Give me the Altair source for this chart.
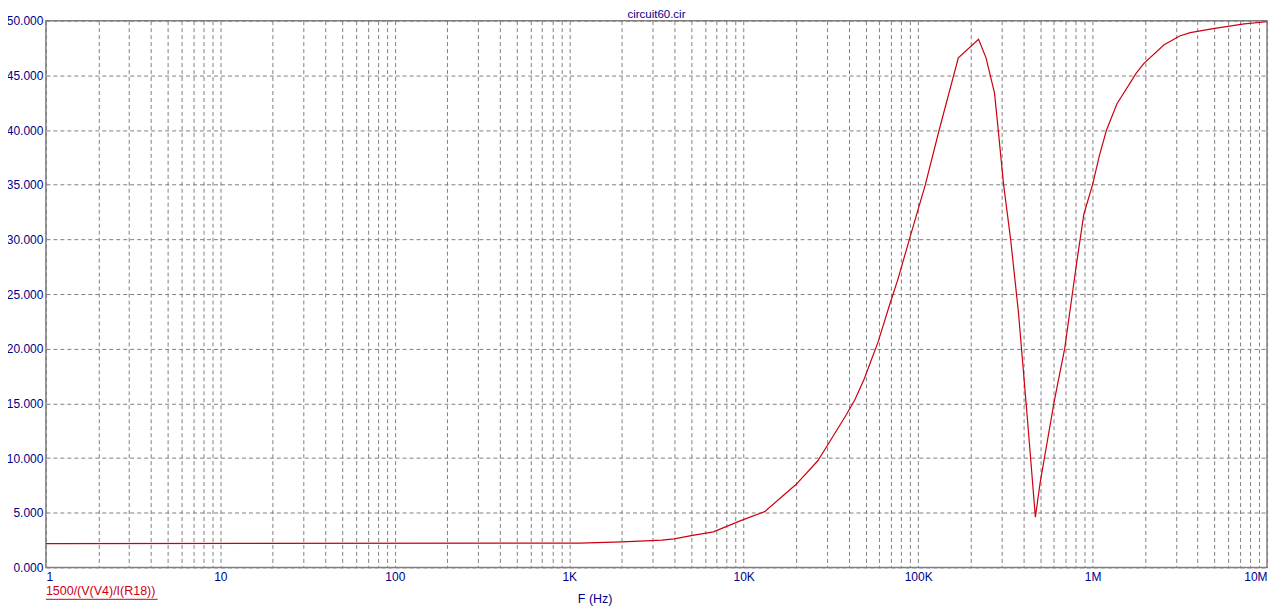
import altair as alt
import pandas as pd

# Frequency (Hz) and trace values
freq = [1, 1150, 2000, 2750, 3400, 4000, 5000, 6700, 9700, 13200,
        20000, 26600, 29500, 38900, 43600, 49000, 58900, 69200, 76400, 89100,
        110000, 132000, 170000, 222000, 245000, 274000, 285000, 309000, 339000, 376000,
        423000, 470000, 500000, 603000, 692000, 813000, 891000, 1000000, 1096000, 1202000,
        1380000, 1780000, 1970000, 2570000, 3160000, 3630000, 5010000, 7410000, 10000000]
value = [2.17, 2.22, 2.33, 2.43, 2.5, 2.6, 2.9, 3.25, 4.3, 5.1,
         7.6, 9.75, 10.9, 14.0, 15.4, 17.2, 20.6, 24.2, 26.3, 30.0,
         35.0, 40.0, 46.6, 48.3, 46.6, 43.4, 40.7, 35.0, 30.0, 23.3,
         13.6, 4.6, 7.7, 15.2, 20.0, 28.0, 32.3, 35.0, 37.7, 40.0,
         42.4, 45.2, 46.1, 47.8, 48.6, 48.9, 49.3, 49.7, 49.9]

decades = [1, 10, 100, 1000, 10000, 100000, 1000000, 10000000]
decade_labels = ["1", "10", "100", "1K", "10K", "100K", "1M", "10M"]
y_ticks = [0, 5, 10, 15, 20, 25, 30, 35, 40, 45, 50]

title_text = "circuit60.cir"
trace_label = "1500/(V(V4)/I(R18))"
x_title = "F (Hz)"

x_grid = [m * d for d in decades[:-1] for m in range(1, 10)] + [decades[-1]]
label_expr = " : ".join(
    f"datum.value == {d} ? '{l}'" for d, l in zip(decades, decade_labels)
) + " : ''"

BLUE = "#00008b"
RED = "#cc0010"
GRAY = "#808080"
FONT = "Liberation Sans"

W, H = 1224, 548

df = pd.DataFrame({"f": freq, "v": value})

line = alt.Chart(df).mark_line(color=RED, strokeWidth=1.2).encode(
    x=alt.X("f:Q",
            scale=alt.Scale(type="log", domain=[1, 10000000], nice=False),
            axis=alt.Axis(values=x_grid, labelExpr=label_expr, labelOverlap=False,
                          labelFlush=True, ticks=False, domain=False,
                          grid=True, gridColor=GRAY, gridDash=[4, 3], gridOpacity=1,
                          labelColor=BLUE, labelFont=FONT, labelFontSize=12,
                          labelPadding=4, labelBaseline="top",
                          title=x_title, titleColor=BLUE, titleFont=FONT,
                          titleFontSize=12.5, titleFontWeight="normal",
                          titleX=550, titleY=35, titleAlign="center",
                          titleBaseline="alphabetic")),
    y=alt.Y("v:Q",
            scale=alt.Scale(domain=[0, 50], nice=False, zero=True),
            axis=alt.Axis(values=y_ticks, format=".3f", ticks=False, domain=False,
                          grid=True, gridColor=GRAY, gridDash=[4, 3], gridOpacity=1,
                          labelColor=BLUE, labelFont=FONT, labelFontSize=12,
                          labelPadding=3, title=None)),
)

title = alt.Chart(pd.DataFrame({"t": [title_text]})).mark_text(
    color=BLUE, font=FONT, fontSize=11.5, align="center", baseline="alphabetic"
).encode(x=alt.value(W / 2), y=alt.value(-3), text="t:N")

legend = alt.Chart(pd.DataFrame({"t": [trace_label]})).mark_text(
    color=RED, font=FONT, fontSize=12.5, align="left", baseline="alphabetic"
).encode(x=alt.value(0), y=alt.value(576), text="t:N")

underline = alt.Chart(pd.DataFrame({"t": [trace_label]})).mark_rule(
    color=RED, strokeWidth=1
).encode(x=alt.value(0), x2=alt.value(112), y=alt.value(580))

chart = alt.layer(line, title, legend, underline).properties(
    width=W, height=H,
    autosize=alt.AutoSizeParams(type="none"),
    padding={"left": 38, "top": 12, "right": 10, "bottom": 40},
    background="white",
).configure_view(stroke=GRAY, strokeWidth=1.5)

chart.save("out.html", embed_options={"renderer": "svg", "actions": False})
